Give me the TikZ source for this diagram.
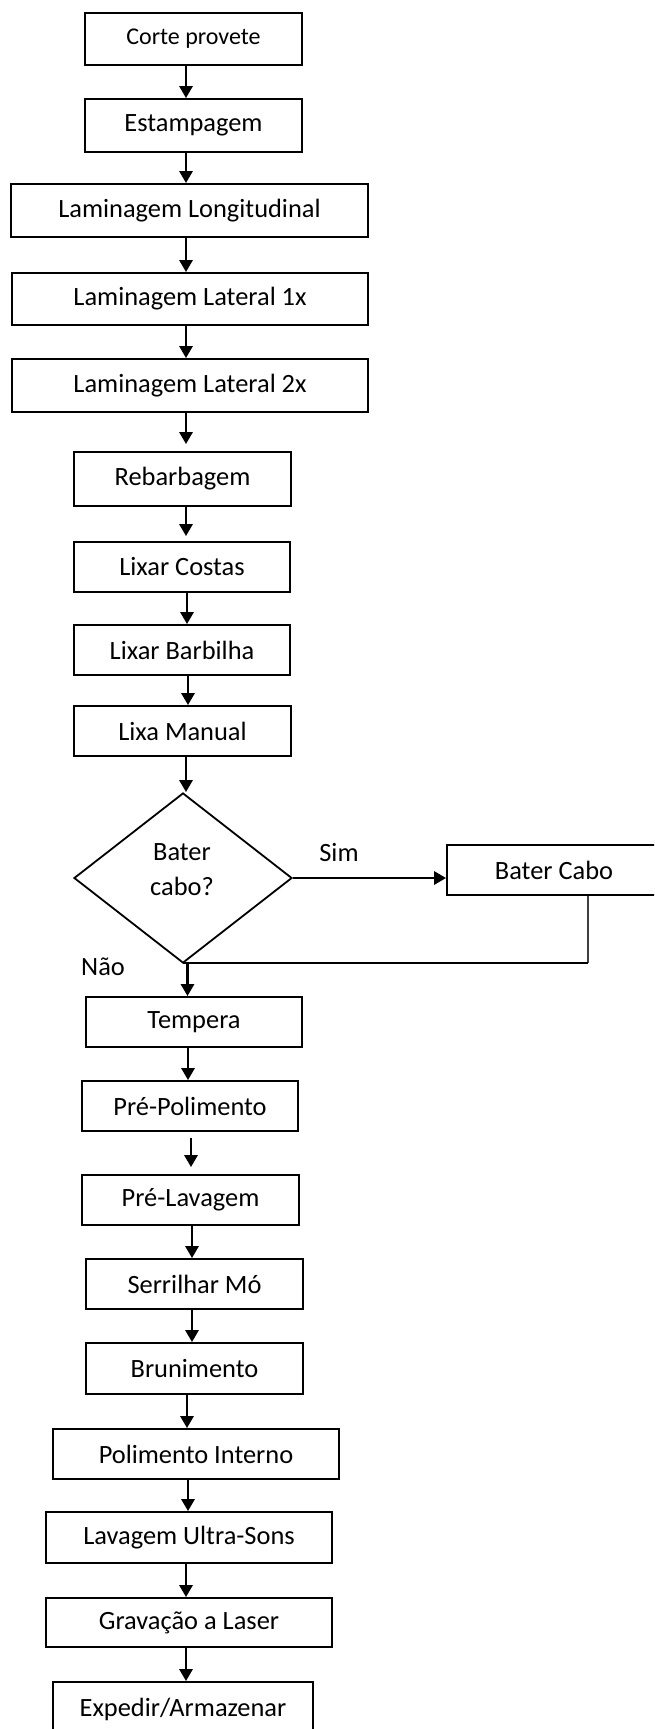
\documentclass[tikz,border=0pt]{standalone}
\usepackage{fontspec}
\setmainfont{Carlito}
\usetikzlibrary{arrows.meta,shapes.geometric}
% vertical flow arrow from the bottom of #2 to the top of #3, #4 = horizontal offset
\newcommand\flowlink[4][]{%
  \draw[flow,#1] ([xshift=#4pt]#2.south) -- ([xshift=#4pt]#2.south |- #3.north);}
\begin{document}
\begin{tikzpicture}[x=1pt,y=-1pt,
  stepbox/.style={draw, line width=1.8pt, inner sep=0pt,
    font=\fontsize{26.4}{32}\selectfont},
  flow/.style={line width=2.8pt, -{Triangle[width=13pt,length=12pt]}},
  lbl/.style={font=\fontsize{26.4}{35}\selectfont, inner sep=0pt}]
\useasboundingbox (0,0) rectangle (654,1729);
\clip (0,0) rectangle (654,1729);

% process steps
\node[stepbox, minimum width=217pt, minimum height=52pt, font=\fontsize{24}{29}\selectfont] (corte) at (193.5,39) {Corte provete};
\node[stepbox, minimum width=217pt, minimum height=53pt] (estamp) at (193.5,125.5) {Estampagem};
\node[stepbox, minimum width=357pt, minimum height=53pt] (lamlong) at (189.5,210.5) {Laminagem Longitudinal};
\node[stepbox, minimum width=356pt, minimum height=52pt] (lat1) at (190,299) {Laminagem Lateral 1x};
\node[stepbox, minimum width=356pt, minimum height=53pt] (lat2) at (190,385.5) {Laminagem Lateral 2x};
\node[stepbox, minimum width=217pt, minimum height=54pt] (rebarb) at (182.5,479) {Rebarbagem};
\node[stepbox, minimum width=216pt, minimum height=50pt] (lixcost) at (182,567) {Lixar Costas};
\node[stepbox, minimum width=216pt, minimum height=50pt] (lixbarb) at (182,650) {Lixar Barbilha};
\node[stepbox, minimum width=217pt, minimum height=50pt] (lixman) at (182.5,731) {Lixa Manual};

% decision
\node[draw, diamond, line width=1.8pt, inner sep=0pt,
  minimum width=218pt, minimum height=170pt] (dec) at (183,878) {};
\node[lbl, align=center] (dectxt) at (182,870) {Bater\\cabo?};
\node[stepbox, minimum width=214pt, minimum height=50pt] (batcabo) at (554,870) {Bater Cabo};
\node[lbl] (sim) at (339,852) {Sim};
\node[lbl] (nao) at (103,967) {Não};

\node[stepbox, minimum width=216pt, minimum height=50pt] (tempera) at (194,1022) {Tempera};
\node[stepbox, minimum width=216pt, minimum height=50pt] (prepol) at (190,1106) {Pré-Polimento};
\node[stepbox, minimum width=217pt, minimum height=50pt] (prelav) at (190.5,1200) {Pré-Lavagem};
\node[stepbox, minimum width=217pt, minimum height=50pt] (serr) at (194.5,1284) {Serrilhar Mó};
\node[stepbox, minimum width=217pt, minimum height=51pt] (brun) at (194.5,1368.5) {Brunimento};
\node[stepbox, minimum width=286pt, minimum height=50pt] (polint) at (196,1454) {Polimento Interno};
\node[stepbox, minimum width=286pt, minimum height=51pt] (lavus) at (189,1537.5) {Lavagem Ultra-Sons};
\node[stepbox, minimum width=286pt, minimum height=49pt] (grav) at (189,1622.5) {Gravação a Laser};
\node[stepbox, minimum width=260pt, minimum height=54pt] (exped) at (183,1709) {Expedir/Armazenar};

% connectors
\flowlink{corte}{estamp}{-7.5}
\flowlink{estamp}{lamlong}{-7.5}
\flowlink{lamlong}{lat1}{-3.5}
\flowlink{lat1}{lat2}{-4}
\flowlink[shorten >=7pt]{lat2}{rebarb}{-4}
\flowlink[shorten >=5pt]{rebarb}{lixcost}{3.5}
\flowlink{lixcost}{lixbarb}{5}
\flowlink{lixbarb}{lixman}{6}
\flowlink{lixman}{dec}{3.5}

\draw[flow] (dec.east) -- (dec.east -| batcabo.west);
\coordinate (joint) at (588,963);
\draw[line width=1.2pt, black!75] (batcabo.south -| joint) -- (joint);
\draw[line width=2.8pt] (joint) -- (joint -| dec.south);

\flowlink{dec}{tempera}{4.5}
\flowlink{tempera}{prepol}{-6}
\flowlink[shorten <=6pt, shorten >=7pt]{prepol}{prelav}{1}
\flowlink{prelav}{serr}{1.5}
\flowlink{serr}{brun}{-2.5}
\flowlink{brun}{polint}{-7.5}
\flowlink{polint}{lavus}{-8}
\flowlink{lavus}{grav}{-3}
\flowlink{grav}{exped}{-3}
\end{tikzpicture}
\end{document}
